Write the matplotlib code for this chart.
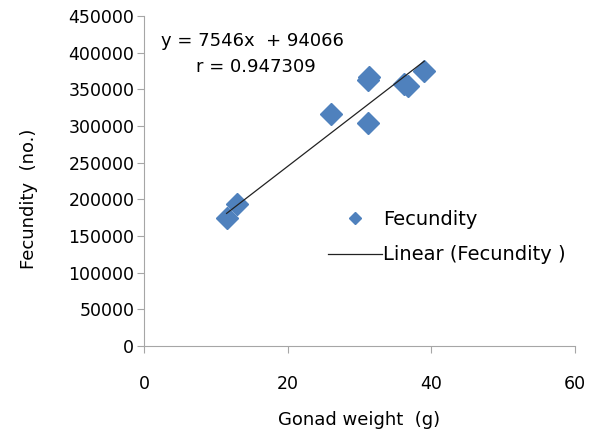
import numpy as np
import matplotlib
matplotlib.use('Agg')
import matplotlib.pyplot as plt

# gonad weight (g) and fecundity (no.)
GONAD = [11.5, 13.0, 26.0, 31.2, 31.3, 31.2, 36.2, 36.7, 39.0]
FECUND = [174000, 193000, 317000, 363000, 367000, 304000, 358000, 355000, 375000]

SLOPE = 7546
INTERCEPT = 94066
R_VALUE = 0.947309

BLUE = '#4f81bd'
GREY = '#a6a6a6'

plt.rcParams['font.family'] = 'DejaVu Sans'

fig = plt.figure(figsize=(5.94, 4.34), dpi=100)
ax = fig.add_axes([0.2424, 0.2028, 0.7256, 0.7602])

ax.plot(GONAD, FECUND, 'D', color=BLUE, markersize=11, label='Fecundity', zorder=3)
xs = np.array([min(GONAD), max(GONAD)])
ax.plot(xs, SLOPE * xs + INTERCEPT, '-', color='#222222', linewidth=0.9,
        label='Linear (Fecundity )', zorder=4)

ax.set_xlim(0, 60)
ax.set_ylim(0, 450000)
ax.set_xticks([0, 20, 40, 60])
ax.set_yticks(range(0, 450001, 50000))
ax.tick_params(labelsize=12.5, color=GREY, length=5, pad=2)
ax.tick_params(axis='x', pad=16)
for side in ['top', 'right']:
  ax.spines[side].set_visible(False)
for side in ['left', 'bottom']:
  ax.spines[side].set_color(GREY)

ax.set_xlabel('Gonad weight  (g)', fontsize=13, labelpad=13)
ax.set_ylabel('Fecundity  (no.)', fontsize=13, labelpad=22)
ax.yaxis.label.set_y(0.445)

ax.text(0.04, 0.91, 'y = %dx  + %d' % (SLOPE, INTERCEPT), transform=ax.transAxes,
        fontsize=13)
ax.text(0.12, 0.83, 'r = %f' % R_VALUE, transform=ax.transAxes, fontsize=13)

leg = ax.legend(loc='center left', bbox_to_anchor=(0.386, 0.33), frameon=False,
                fontsize=14, markerscale=0.55, handlelength=2.8, handletextpad=0.05,
                labelspacing=0.85)

fig.savefig('out.png', dpi=100)
